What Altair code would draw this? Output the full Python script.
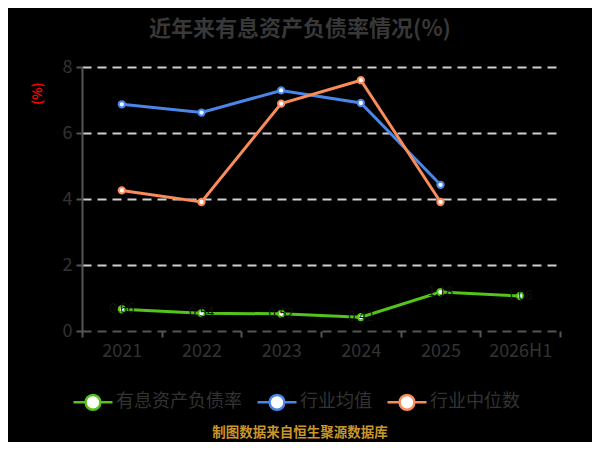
import altair as alt
import pandas as pd

years = ["2021", "2022", "2023", "2024", "2025", "2026H1"]
ratio = [0.66, 0.54, 0.52, 0.42, 1.18, 1.06]
ind_mean = [6.87, 6.62, 7.29, 6.91, 4.43, None]
ind_median = [4.26, 3.91, 6.89, 7.60, 3.91, None]
series_names = ["有息资产负债率", "行业均值", "行业中位数"]
colors = ["#52c41a", "#4a86e8", "#fa8c5a"]

rows = []
for name, vals in zip(series_names, [ratio, ind_mean, ind_median]):
    for i, (y, v) in enumerate(zip(years, vals)):
        if v is not None:
            rows.append({"year": y, "series": name, "value": v, "k": series_names.index(name)})
df = pd.DataFrame(rows)

FONT = "Noto Sans CJK SC"

legend_path = ("M-1,0L-0.38,0M0.38,0L1,0"
               "M-0.38,0A0.38,0.38,0,1,1,0.38,0A0.38,0.38,0,1,1,-0.38,0Z")

x = alt.X("year:N", sort=years,
          scale=alt.Scale(type="band", paddingInner=0, paddingOuter=0, domain=years),
          axis=alt.Axis(title=None, labelAngle=0, labelFontSize=18, labelColor="#333",
                        labelFont=FONT, labelPadding=5, tickBand="extent", tickColor="#555",
                        tickSize=6, tickWidth=2, domain=False, grid=False))
y = alt.Y("value:Q",
          scale=alt.Scale(domain=[0, 8], nice=False),
          axis=alt.Axis(title="(%)", titleColor="#ff0000", titleFontSize=13, titleFont=FONT,
                        titleFontWeight="bold", titleX=-45, titleY=26, titleAngle=270,
                        titleAlign="center", titleBaseline="middle",
                        values=[0, 2, 4, 6, 8], labelFontSize=18, labelColor="#333",
                        labelFont=FONT, labelPadding=4, tickColor="#555", tickSize=6,
                        tickWidth=2, domainColor="#555", domainWidth=2,
                        grid=True, gridDash=[9, 6], gridWidth=2,
                        gridColor={"condition": {"test": "datum.value === 0", "value": "#555"},
                                   "value": "#d0d0d0"}))
stroke = alt.Stroke("series:N",
                    scale=alt.Scale(domain=series_names, range=colors),
                    legend=alt.Legend(title=None, orient="none", direction="horizontal",
                                      legendX=-10, legendY=314,
                                      symbolType=legend_path, symbolSize=1521,
                                      symbolStrokeWidth=2.5, symbolFillColor="white",
                                      symbolOpacity=1,
                                      labelFontSize=18, labelColor="#333", labelFont=FONT,
                                      labelOffset=2, columnPadding=10, labelLimit=300))

base = alt.Chart(df).encode(x=x, y=y, stroke=stroke, order=alt.Order("k:Q"))

lines = base.mark_line(strokeWidth=3)
points = base.mark_point(filled=True, fill="white", size=40, strokeWidth=2, opacity=1)

labels = alt.Chart(df[df["series"] == series_names[0]]).mark_text(
    fontSize=13, font=FONT, color="#111111", align="center", baseline="middle"
).encode(x=alt.X("year:N", sort=years), y="value:Q", text=alt.Text("value:Q", format=".2f"))

footer_df = pd.DataFrame({"t": ["制图数据来自恒生聚源数据库"]})
footer = alt.Chart(footer_df).mark_text(
    fontSize=13.5, font=FONT, fontWeight="bold", color="#c8962a", align="center",
    baseline="middle"
).encode(x=alt.value(218), y=alt.value(366), text="t:N")

chart = alt.layer(lines, points, labels, footer).properties(
    width=478, height=264,
    autosize=alt.AutoSizeParams(type="none"),
    padding={"left": 74, "top": 59, "right": 32, "bottom": 111},
    background="black",
    title=alt.TitleParams("近年来有息资产负债率情况(%)", fontSize=22, font=FONT,
                          fontWeight="bold", color="#383838", anchor="middle",
                          dx=-21, offset=17),
).configure_view(stroke=None)

chart.save("out.html", embed_options={"renderer": "svg", "actions": False})
